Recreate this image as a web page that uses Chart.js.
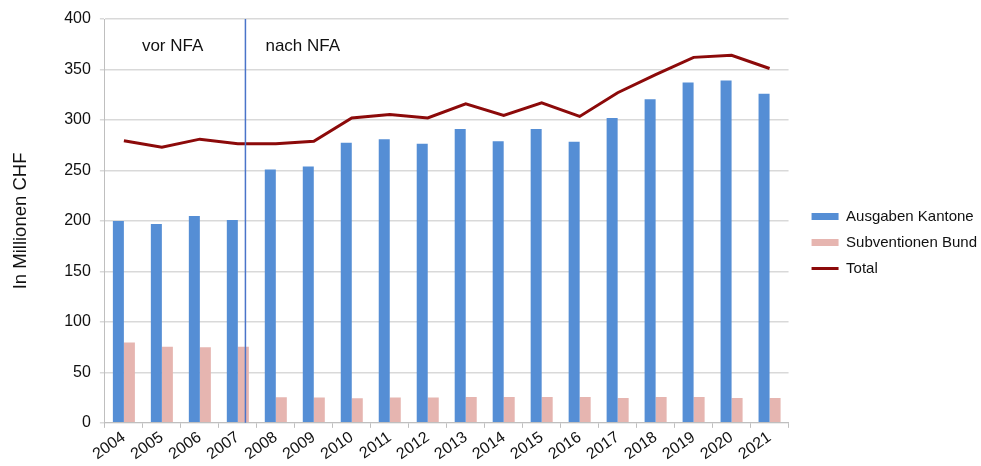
<!DOCTYPE html>
<html>
<head>
<meta charset="utf-8">
<script src="https://cdn.jsdelivr.net/npm/chart.js@4"></script>
<style>
  html, body { margin: 0; padding: 0; background: #fff; }
  #wrap { width: 981px; height: 466px; }
</style>
</head>
<body>
<div id="wrap"><canvas id="chart" width="981" height="466"></canvas></div>
<script>
// Daten
var jahre = ['2004', '2005', '2006', '2007', '2008', '2009', '2010', '2011', '2012',
             '2013', '2014', '2015', '2016', '2017', '2018', '2019', '2020', '2021'];
var ausgabenKantone = [200, 197, 205, 201, 251, 254, 277.5, 281, 276.5,
                       291, 279, 291, 278.5, 302, 320.5, 337, 339, 326];
var subventionenBund = [79.5, 75.5, 75, 75.5, 25.4, 25, 24.4, 25, 25,
                        25.5, 25.5, 25.5, 25.5, 24.5, 25.5, 25.5, 24.5, 24.5];
var total = [279.5, 273, 281, 276.5, 276.5, 279, 302, 305.5, 302,
             316, 304.5, 317, 303.5, 327, 345, 362, 364, 351];
var yTicks = [0, 50, 100, 150, 200, 250, 300, 350, 400];

var schrift = 'Liberation Sans, Arial, Helvetica, sans-serif';

// senkrechte Linie und Beschriftung vor/nach NFA
var nfaPlugin = {
    id: 'nfa',
    afterDatasetsDraw: function (chart) {
        var ctx = chart.ctx;
        var x = chart.scales.x;
        var area = chart.chartArea;
        var p3 = x.getPixelForValue(3);
        var p4 = x.getPixelForValue(4);
        var lx = p3 + 0.2 * (p4 - p3);
        ctx.save();
        ctx.strokeStyle = '#4a74c9';
        ctx.lineWidth = 1.5;
        ctx.beginPath();
        ctx.moveTo(lx, area.top);
        ctx.lineTo(lx, area.bottom);
        ctx.stroke();
        ctx.fillStyle = '#111';
        ctx.font = '17px ' + schrift;
        ctx.textBaseline = 'alphabetic';
        ctx.textAlign = 'left';
        ctx.fillText('vor NFA', area.left + 37, area.top + 32);
        ctx.fillText('nach NFA', lx + 20, area.top + 32);
        ctx.restore();
    }
};

// etwas mehr Abstand zwischen Diagramm und Legende
var legendeAbstand = {
    id: 'legendeAbstand',
    beforeLayout: function (chart) {
        var leg = chart.legend;
        if (leg && !leg._breiter) {
            var fitAlt = leg.fit;
            leg.fit = function () {
                fitAlt.call(this);
                this.width += 6;
            };
            leg._breiter = true;
        }
    },
    afterLayout: function (chart) {
        if (chart.legend) {
            chart.legend.left += 12;
            chart.legend.right += 12;
        }
    }
};

var ctx = document.getElementById('chart').getContext('2d');
var chart = new Chart(ctx, {
    type: 'bar',
    data: {
        labels: jahre,
        datasets: [{
            type: 'line',
            label: 'Total',
            data: total,
            borderColor: '#8c0a0a',
            backgroundColor: '#8c0a0a',
            borderWidth: 3,
            pointRadius: 0,
            tension: 0,
            order: 0
        }, {
            label: 'Ausgaben Kantone',
            data: ausgabenKantone,
            backgroundColor: '#558ed5',
            order: 1
        }, {
            label: 'Subventionen Bund',
            data: subventionenBund,
            backgroundColor: '#e6b5b0',
            order: 1
        }]
    },
    options: {
        responsive: false,
        animation: false,
        layout: { padding: { left: 10, right: 0, top: 19, bottom: 0 } },
        datasets: {
            bar: { categoryPercentage: 0.58, barPercentage: 1.0 }
        },
        plugins: {
            tooltip: { enabled: false },
            legend: {
                position: 'right',
                labels: {
                    color: '#111',
                    font: { family: schrift, size: 15 },
                    usePointStyle: true,
                    pointStyleWidth: 27,
                    boxHeight: 7,
                    padding: 11,
                    sort: function (a, b) {
                        var reihenfolge = ['Ausgaben Kantone', 'Subventionen Bund', 'Total'];
                        return reihenfolge.indexOf(a.text) - reihenfolge.indexOf(b.text);
                    },
                    generateLabels: function (c) {
                        var items = Chart.defaults.plugins.legend.labels.generateLabels(c);
                        items.forEach(function (it) {
                            if (it.text === 'Total') {
                                it.pointStyle = 'line';
                                it.lineWidth = 3;
                                it.strokeStyle = '#8c0a0a';
                            } else {
                                it.pointStyle = 'rect';
                                it.lineWidth = 0;
                            }
                        });
                        return items;
                    }
                }
            }
        },
        scales: {
            x: {
                afterFit: function (scale) { scale.height += 2; },
                grid: {
                    display: true,
                    drawOnChartArea: false,
                    drawTicks: true,
                    tickLength: 5,
                    offset: true,
                    color: '#bfbfbf'
                },
                border: { color: '#bfbfbf' },
                ticks: {
                    color: '#111',
                    font: { family: schrift, size: 16 },
                    autoSkip: false,
                    minRotation: 35,
                    maxRotation: 35,
                    padding: 0
                }
            },
            y: {
                min: 0,
                max: 400,
                afterBuildTicks: function (axis) {
                    axis.ticks = yTicks.map(function (v) { return { value: v }; });
                },
                grid: {
                    color: '#d9d9d9',
                    lineWidth: 1.5,
                    tickLength: 5
                },
                border: { color: '#bfbfbf' },
                ticks: {
                    color: '#111',
                    font: { family: schrift, size: 16 },
                    padding: 9
                },
                title: {
                    display: true,
                    text: 'In Millionen CHF',
                    color: '#111',
                    font: { family: schrift, size: 18.5 },
                    padding: { top: 0, bottom: 23 }
                }
            }
        }
    },
    plugins: [nfaPlugin, legendeAbstand]
});
</script>
</body>
</html>
